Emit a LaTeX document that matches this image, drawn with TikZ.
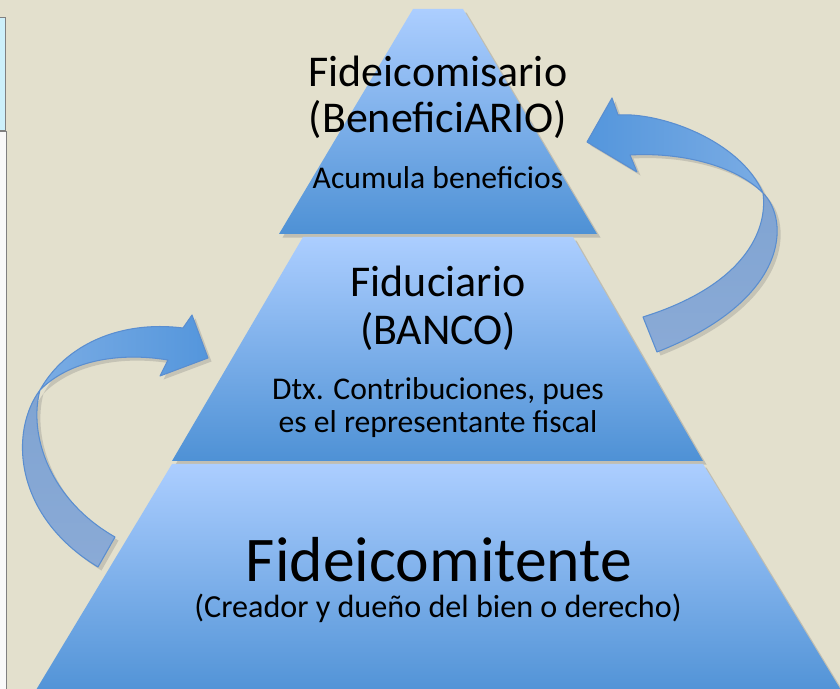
\documentclass[tikz,border=0pt]{standalone}
\usepackage{fontspec}
\setmainfont{Carlito}
\usetikzlibrary{shadows, positioning}

\definecolor{fondo}{RGB}{227,224,205}
\definecolor{capaclara}{RGB}{172,206,255}
\definecolor{capaoscura}{RGB}{78,145,213}
\definecolor{flechaborde}{RGB}{90,142,208}
\definecolor{flechafuerte}{RGB}{84,150,220}
\definecolor{flechasuave}{RGB}{122,172,228}
\definecolor{flechagris}{RGB}{128,164,210}
\definecolor{flechagrisb}{RGB}{138,170,214}

\tikzset{
    capa/.style={top color=capaclara, bottom color=capaoscura,
        drop shadow={opacity=.35, shadow xshift=2pt, shadow yshift=-2pt}},
    flecha/.style={draw=flechaborde, line width=.6pt, line join=round,
        drop shadow={opacity=.3, shadow xshift=2pt, shadow yshift=-2pt}},
    titulo/.style={anchor=base, inner sep=0pt, font=\fontsize{25}{30}\selectfont},
    texto/.style={anchor=base, inner sep=0pt, font=\fontsize{18}{21}\selectfont},
}

\begin{document}
\begin{tikzpicture}[x=0.02cm, y=-0.02cm]
    % fondo y marco del borde izquierdo
    \clip (0,0) rectangle (840,689);
    \fill[fondo] (0,0) rectangle (840,689);
    \filldraw[fill={rgb,255:red,205;green,240;blue,250}, draw=gray] (-2,17) rectangle (5,130);
    \filldraw[fill=white!95!gray, draw=gray] (-2,131) rectangle (6,700);

    % las tres capas de la piramide
    \path[capa] (413,9) -- (463,9) -- (597,234) -- (279,234) -- cycle;
    \path[capa] (303,237) -- (573,237) -- (703,461) -- (172,461) -- cycle;
    \path[capa] (172,464) -- (703,464) -- (847,700) -- (30,700) -- cycle;

    % flecha derecha: cola y cabeza
    \path[flecha, top color=flechagris, bottom color=flechagrisb]
        (763,193) .. controls (790,220) and (790,300) .. (657,352)
        -- (643,317) .. controls (745,285) and (768,230) .. (763,193) -- cycle;
    \path[flecha, left color=flechafuerte, right color=flechasuave]
        (587,142) -- (612,98) -- (618,115)
        .. controls (660,112) and (740,140) .. (763,193)
        .. controls (735,165) and (680,152) .. (630,155)
        -- (637,172) -- cycle;

    % flecha izquierda: cola y cabeza
    \path[flecha, top color=flechagris, bottom color=flechagrisb]
        (40,390) .. controls (10,430) and (12,515) .. (98,567)
        -- (115,537) .. controls (50,500) and (28,435) .. (40,390) -- cycle;
    \path[flecha, left color=flechasuave, right color=flechafuerte]
        (208,358) -- (192,315) -- (183,328)
        .. controls (120,320) and (65,345) .. (40,390)
        .. controls (70,360) and (120,352) .. (168,360)
        -- (160,376) -- cycle;

    % textos de cada capa
    \node[titulo] (fideicomisario) at (438,87) {Fideicomisario};
    \node[titulo] (beneficiario) at (438,133) {(BeneficiARIO)};
    \node[texto] (acumula) at (438,189) {Acumula beneficios};

    \node[titulo] (fiduciario) at (438,297) {Fiduciario};
    \node[titulo] (banco) at (438,345) {(BANCO)};
    \node[texto] (dtx) at (438,400) {Dtx. Contribuciones, pues};
    \node[texto] (fiscal) at (438,433) {es el representante fiscal};

    \node[anchor=base, inner sep=0pt, font=\fontsize{36.2}{40}\selectfont] (fideicomitente) at (439,582) {Fideicomitente};
    \node[anchor=base, inner sep=0pt, font=\fontsize{18.3}{21}\selectfont] (creador) at (438,618) {(Creador y dueño del bien o derecho)};
\end{tikzpicture}
\end{document}
